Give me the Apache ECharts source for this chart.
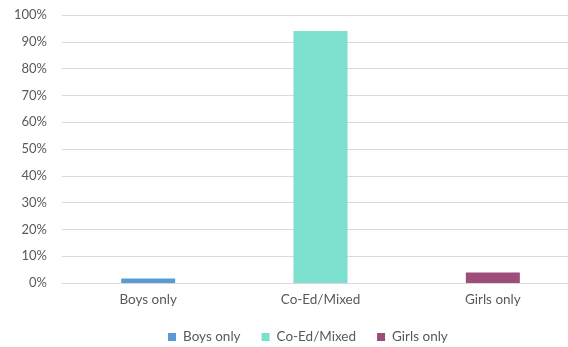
<!DOCTYPE html>
<html>
<head>
<meta charset="utf-8">
<script src="https://cdn.jsdelivr.net/npm/echarts@6/dist/echarts.min.js"></script>
<style>
  html, body { margin: 0; padding: 0; background: #fff; }
  #chart { width: 568px; height: 347px; }
</style>
</head>
<body>
<div id="chart"></div>
<script>
// School type categories and share of schools (%)
const categories = ['Boys only', 'Co-Ed/Mixed', 'Girls only'];
const shares = [1.7, 94.0, 3.9];
const colors = ['#5b9bd5', '#7ddfcd', '#9c4d78'];
const yTicks = [0, 10, 20, 30, 40, 50, 60, 70, 80, 90, 100];

const font = 'Lato, "Open Sans", "Liberation Sans", sans-serif';

// One series per category so each gets its own legend entry
const series = categories.map((name, i) => ({
  name: name,
  type: 'bar',
  stack: 'total',
  barWidth: 54,
  itemStyle: { color: colors[i] },
  data: categories.map((c, j) => (j === i ? shares[i] : '-'))
}));

const chart = echarts.init(document.getElementById('chart'), null, { renderer: 'canvas' });
chart.setOption({
  animation: false,
  grid: { left: 62, width: 517, top: 15, bottom: 64, containLabel: false, outerBoundsMode: 'none' },
  legend: {
    top: 325,
    left: 163,
    itemWidth: 8,
    itemHeight: 8,
    itemGap: 21,
    icon: 'rect',
    textStyle: { color: '#595959', fontSize: 13.5, fontFamily: font, padding: [0, 0, 0, 2] },
    data: categories
  },
  xAxis: {
    type: 'category',
    data: categories,
    axisTick: { show: false },
    axisLine: { lineStyle: { color: '#d9d9d9' } },
    axisLabel: { color: '#595959', fontSize: 13.5, fontFamily: font, margin: 10 }
  },
  yAxis: {
    type: 'value',
    min: yTicks[0],
    max: yTicks[yTicks.length - 1],
    interval: 10,
    axisLine: { show: false },
    axisTick: { show: false },
    splitLine: { lineStyle: { color: '#d9d9d9', width: 1 } },
    axisLabel: { color: '#595959', fontSize: 13, fontFamily: font, margin: 15, formatter: '{value}%' }
  },
  series: series
});
</script>
</body>
</html>
